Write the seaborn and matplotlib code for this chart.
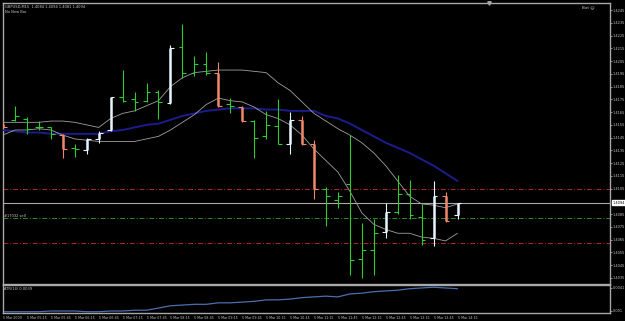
import numpy as np
import pandas as pd
import matplotlib
matplotlib.use("Agg")
import matplotlib.pyplot as plt
import matplotlib.transforms as mtransforms
import seaborn as sns

# ---------------- data (GBPUSD M15, 5 Mar 2009 04:45 .. 14:15) ----------------
opens = [1.4156, 1.4159, 1.4160, 1.4153, 1.4153, 1.4147, 1.4137, 1.4135, 1.4144, 1.4151,
         1.4177, 1.4175, 1.4174, 1.4181, 1.4172, 1.4216, 1.4196, 1.4203, 1.4196, 1.4171,
         1.4169, 1.4158, 1.4146, 1.4154, 1.4140, 1.4159, 1.4140, 1.4105, 1.4096, 1.4109,
         1.4050, 1.4057, 1.4071, 1.4087, 1.4101, 1.4083, 1.4066, 1.4099, 1.4084]
highs = [1.4157, 1.4170, 1.4161, 1.4158, 1.4153, 1.4148, 1.4140, 1.4145, 1.4150, 1.4177,
         1.4198, 1.4181, 1.4188, 1.4182, 1.4218, 1.4234, 1.4209, 1.4212, 1.4204, 1.4176,
         1.4170, 1.4159, 1.4166, 1.4175, 1.4165, 1.4162, 1.4143, 1.4106, 1.4102, 1.4147,
         1.4078, 1.4081, 1.4094, 1.4116, 1.4112, 1.4093, 1.4111, 1.4102, 1.4094]
lows = [1.4152, 1.4158, 1.4148, 1.4151, 1.4144, 1.4129, 1.4130, 1.4132, 1.4141, 1.4150,
        1.4173, 1.4166, 1.4173, 1.4160, 1.4171, 1.4192, 1.4193, 1.4194, 1.4169, 1.4164,
        1.4157, 1.4129, 1.4144, 1.4140, 1.4132, 1.4139, 1.4097, 1.4076, 1.4090, 1.4037,
        1.4035, 1.4037, 1.4066, 1.4085, 1.4081, 1.4061, 1.4060, 1.4079, 1.4081]
closes = [1.4153, 1.4162, 1.4152, 1.4153, 1.4148, 1.4136, 1.4136, 1.4144, 1.4149, 1.4177,
          1.4174, 1.4173, 1.4181, 1.4173, 1.4215, 1.4196, 1.4203, 1.4196, 1.4170, 1.4170,
          1.4158, 1.4145, 1.4155, 1.4140, 1.4159, 1.4140, 1.4105, 1.4099, 1.4099, 1.4049,
          1.4057, 1.4070, 1.4087, 1.4101, 1.4084, 1.4065, 1.4099, 1.4080, 1.4094]
# bar highlight: g = plain, s = bearish highlight, w = bullish highlight
bar_kind = ["s", "g", "g", "g", "g", "s", "g", "w", "w", "w",
            "g", "g", "g", "g", "w", "g", "g", "g", "s", "g",
            "s", "g", "g", "g", "w", "s", "s", "g", "g", "g",
            "g", "g", "w", "g", "g", "g", "w", "s", "w"]

env_upper = [1.4157, 1.4157, 1.4157, 1.4157, 1.4158, 1.4158, 1.4157, 1.4155, 1.4153, 1.4160,
             1.4164, 1.4166, 1.4170, 1.4174, 1.4185, 1.4192, 1.4196, 1.4197, 1.4198, 1.4198,
             1.4198, 1.4197, 1.4196, 1.4188, 1.4182, 1.4173, 1.4164, 1.4158, 1.4152, 1.4147,
             1.4141, 1.4133, 1.4123, 1.4111, 1.4099, 1.4093, 1.4092, 1.4090, 1.4093]
env_lower = [1.4147, 1.4151, 1.4151, 1.4152, 1.4151, 1.4147, 1.4144, 1.4143, 1.4142, 1.4142,
             1.4142, 1.4142, 1.4144, 1.4146, 1.4151, 1.4157, 1.4163, 1.4171, 1.4176, 1.4174,
             1.4173, 1.4169, 1.4163, 1.4160, 1.4155, 1.4147, 1.4136, 1.4127, 1.4118, 1.4103,
             1.4086, 1.4077, 1.4073, 1.4070, 1.4070, 1.4067, 1.4066, 1.4064, 1.4070]
ma_slow = [1.4151, 1.4150, 1.4149, 1.4149, 1.4148, 1.4148, 1.4148, 1.4148, 1.4148, 1.4150,
           1.4151, 1.4153, 1.4155, 1.4156, 1.4159, 1.4162, 1.4164, 1.4166, 1.4167, 1.4168,
           1.4168, 1.4168, 1.4167, 1.4167, 1.4166, 1.4166, 1.4166, 1.4162, 1.4160, 1.4156,
           1.4151, 1.4146, 1.4141, 1.4137, 1.4133, 1.4128, 1.4123, 1.4117, 1.4111]
atr14 = [0.0009, 0.0009, 0.0009, 0.0009, 0.0010, 0.0010, 0.0010, 0.0009, 0.0009, 0.0010,
         0.0010, 0.0011, 0.0011, 0.0014, 0.0017, 0.0018, 0.0019, 0.0019, 0.0021, 0.0021,
         0.0022, 0.0023, 0.0025, 0.0025, 0.0026, 0.0028, 0.0029, 0.0030, 0.0029, 0.0033,
         0.0034, 0.0036, 0.0037, 0.0038, 0.0040, 0.0041, 0.0042, 0.0041, 0.0040]

current_price = 1.4094
order_levels = [1.4105, 1.4082, 1.4062]
order_colors = ["#b02828", "#2a8a2a", "#b02828"]
order_label = "#17032 sell"

price_ticks = [1.4035, 1.4045, 1.4055, 1.4065, 1.4075, 1.4085, 1.4105, 1.4115,
               1.4125, 1.4135, 1.4145, 1.4155, 1.4165, 1.4175, 1.4185, 1.4195, 1.4205,
               1.4215, 1.4225, 1.4235, 1.4245]
time_labels = ["5 Mar 2009", "5 Mar 05:15", "5 Mar 05:45", "5 Mar 06:15", "5 Mar 06:45",
               "5 Mar 07:15", "5 Mar 07:45", "5 Mar 08:15", "5 Mar 08:45", "5 Mar 09:15",
               "5 Mar 09:45", "5 Mar 10:15", "5 Mar 10:45", "5 Mar 11:15", "5 Mar 11:45",
               "5 Mar 12:15", "5 Mar 12:45", "5 Mar 13:15", "5 Mar 13:45", "5 Mar 14:15"]
atr_ticks = [0.0041, 0.0010]
atr_tick_labels = ["0.0041", "0.001"]

# ---------------- styling ----------------
sns.set_style("dark")
plt.rcParams["font.family"] = ["DejaVu Sans"]
BG = "black"
FG = "#c8c8c8"
GREEN = "#2fcc2f"
SALMON = "#f0866a"
WHITE = "#e6f4ff"

n = len(opens)
idx = np.arange(n)
df = pd.DataFrame({"bar": idx, "open": opens, "high": highs, "low": lows, "close": closes,
                   "kind": bar_kind, "upper": env_upper, "lower": env_lower,
                   "slow": ma_slow, "atr": atr14})

fig = plt.figure(figsize=(6.25, 3.21), dpi=100, facecolor=BG)
W, H = 625.0, 321.0
left, right = 3 / W, 610 / W
ax = fig.add_axes([left, 1 - 284 / H, right - left, (284 - 3) / H])
ax2 = fig.add_axes([left, 1 - 313 / H, right - left, (313 - 285) / H], sharex=ax)

for a in (ax, ax2):
    a.set_facecolor(BG)
    a.grid(False)
    for s in a.spines.values():
        s.set_color("#a8a8a8")
        s.set_linewidth(1.0)

# ---------------- price bars ----------------
color_of = {"g": GREEN, "s": SALMON, "w": WHITE}
tick = 0.32
for k in ("g", "s", "w"):
    d = df[df["kind"] == k]
    c = color_of[k]
    ax.vlines(d["bar"], d["low"], d["high"], color=c, lw=0.8, zorder=4)
    ax.hlines(d["open"], d["bar"] - tick, d["bar"], color=c, lw=0.8, zorder=4)
    ax.hlines(d["close"], d["bar"], d["bar"] + tick, color=c, lw=0.8, zorder=4)
    if k != "g":
        ax.vlines(d["bar"], d[["open", "close"]].min(axis=1), d[["open", "close"]].max(axis=1),
                  color=c, lw=1.8, zorder=5)

# ---------------- moving averages ----------------
sns.lineplot(data=df, x="bar", y="slow", ax=ax, color="#1c1c8c", lw=1.4, legend=False, zorder=3)
sns.lineplot(data=df, x="bar", y="upper", ax=ax, color="#a0a0a0", lw=0.6, legend=False, zorder=3)
sns.lineplot(data=df, x="bar", y="lower", ax=ax, color="#a0a0a0", lw=0.6, legend=False, zorder=3)

# ---------------- horizontal levels ----------------
ax.axhline(current_price, color="#a8a8a8", lw=0.8, zorder=2)
for lvl, c in zip(order_levels, order_colors):
    ax.axhline(lvl, color=c, lw=0.7, ls=(0, (5, 2, 1, 2)), zorder=2)
blend = mtransforms.blended_transform_factory(ax.transAxes, ax.transData)
ax.text(0.002, order_levels[1] + 0.00003, order_label, transform=blend, color=FG,
        fontsize=2.6, va="bottom", ha="left")

# ---------------- axes ----------------
ax.set_xlim(0.17, 50.75)
ax.set_ylim(1.40302, 1.42506)
ax.yaxis.tick_right()
ax.set_yticks(price_ticks)
ax.set_yticklabels([f"{v:.4f}" for v in price_ticks])
ax.tick_params(axis="y", colors=FG, labelsize=2.5, length=1.5, width=0.5, pad=0.6)
ax.tick_params(axis="x", bottom=False, labelbottom=False)
ax.set_xlabel("")
ax.set_ylabel("")

# current price box
blend_r = mtransforms.blended_transform_factory(ax.transAxes, ax.transData)
ax.text(1.004, current_price, f"{current_price:.4f}", transform=blend_r, color="black",
        fontsize=2.5, va="center", ha="left", clip_on=False,
        bbox=dict(boxstyle="square,pad=0.15", fc="white", ec="white"))

# header texts
ax.text(0.004, 0.993, "GBPUSD,M15  1.4084 1.4094 1.4081 1.4094", transform=ax.transAxes,
        color=FG, fontsize=2.6, va="top", ha="left")
ax.text(0.004, 0.975, "No New Bar", transform=ax.transAxes,
        color=FG, fontsize=2.6, va="top", ha="left")
ax.text(0.975, 0.993, "Bot \u263a", transform=ax.transAxes,
        color=FG, fontsize=3.0, va="top", ha="right")
ax.plot([0.8], [1.0], marker="v", ms=2.5, color="#a8a8a8", transform=ax.transAxes,
        clip_on=False, zorder=6)

# ---------------- ATR panel ----------------
sns.lineplot(data=df, x="bar", y="atr", ax=ax2, color="#4a6fb0", lw=0.9, legend=False)
ax2.set_ylim(0.00073, 0.0045)
ax2.yaxis.tick_right()
ax2.set_yticks(atr_ticks)
ax2.set_yticklabels(atr_tick_labels)
ax2.tick_params(axis="y", colors=FG, labelsize=2.5, length=1.5, width=0.5, pad=0.6)
ax2.set_xticks(idx[::2])
ax2.set_xticklabels(time_labels, ha="left")
ax2.tick_params(axis="x", colors=FG, labelsize=2.3, length=2, width=0.5, pad=0.5)
ax2.set_xlabel("")
ax2.set_ylabel("")
ax2.text(0.002, 0.93, "ATR(14) 0.0039", transform=ax2.transAxes, color=FG,
         fontsize=2.6, va="top", ha="left")

fig.savefig("out.png", dpi=100, facecolor=BG)
